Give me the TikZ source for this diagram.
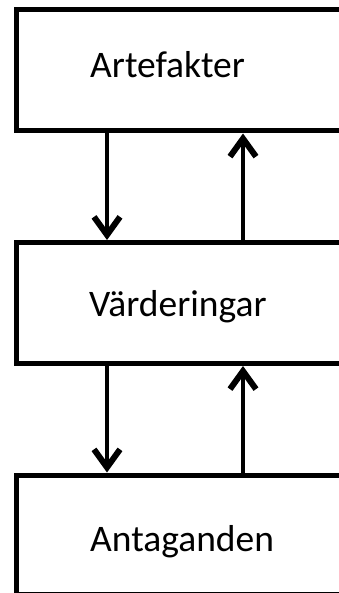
\documentclass[tikz,border=0pt]{standalone}
\usepackage{fontspec}
\setmainfont{Carlito}
\usetikzlibrary{arrows.meta,calc}
\begin{document}
\begin{tikzpicture}[x=1pt,y=-1pt,
  layer/.style={draw=black,line width=5pt,rectangle,minimum width=335pt,inner sep=0pt,anchor=north west},
  caption/.style={anchor=base west,inner sep=0pt,font=\fontsize{37.5}{45}\selectfont},
  flow/.style={line width=4pt,-{Straight Barb[length=18pt,width=26pt,line width=6pt]}}]
\useasboundingbox (0,0) rectangle (339,593);
\clip (0,0) rectangle (339,593);
% three stacked layers, running past the right edge
\node[layer,minimum height=121pt] (art) at (13.5,7.5) {};
\node[layer,minimum height=121pt] (var) at (13.5,240) {};
\node[layer,minimum height=119.5pt] (ant) at (13.5,472.5) {};
% labels
\node[caption] (tart) at (90,77.5) {Artefakter};
\node[caption] (tvar) at (89,316.5) {Värderingar};
\node[caption] (tant) at (90,551.5) {Antaganden};
% connectors
\draw[flow] ($(art.south west)+(93.5,0)$) -- ($(var.north west)+(93.5,0)$);
\draw[flow] ($(var.north west)+(229.5,0)$) -- ($(art.south west)+(229.5,0)$);
\draw[flow] ($(var.south west)+(93.5,0)$) -- ($(ant.north west)+(93.5,0)$);
\draw[flow] ($(ant.north west)+(229.5,0)$) -- ($(var.south west)+(229.5,0)$);
\end{tikzpicture}
\end{document}
